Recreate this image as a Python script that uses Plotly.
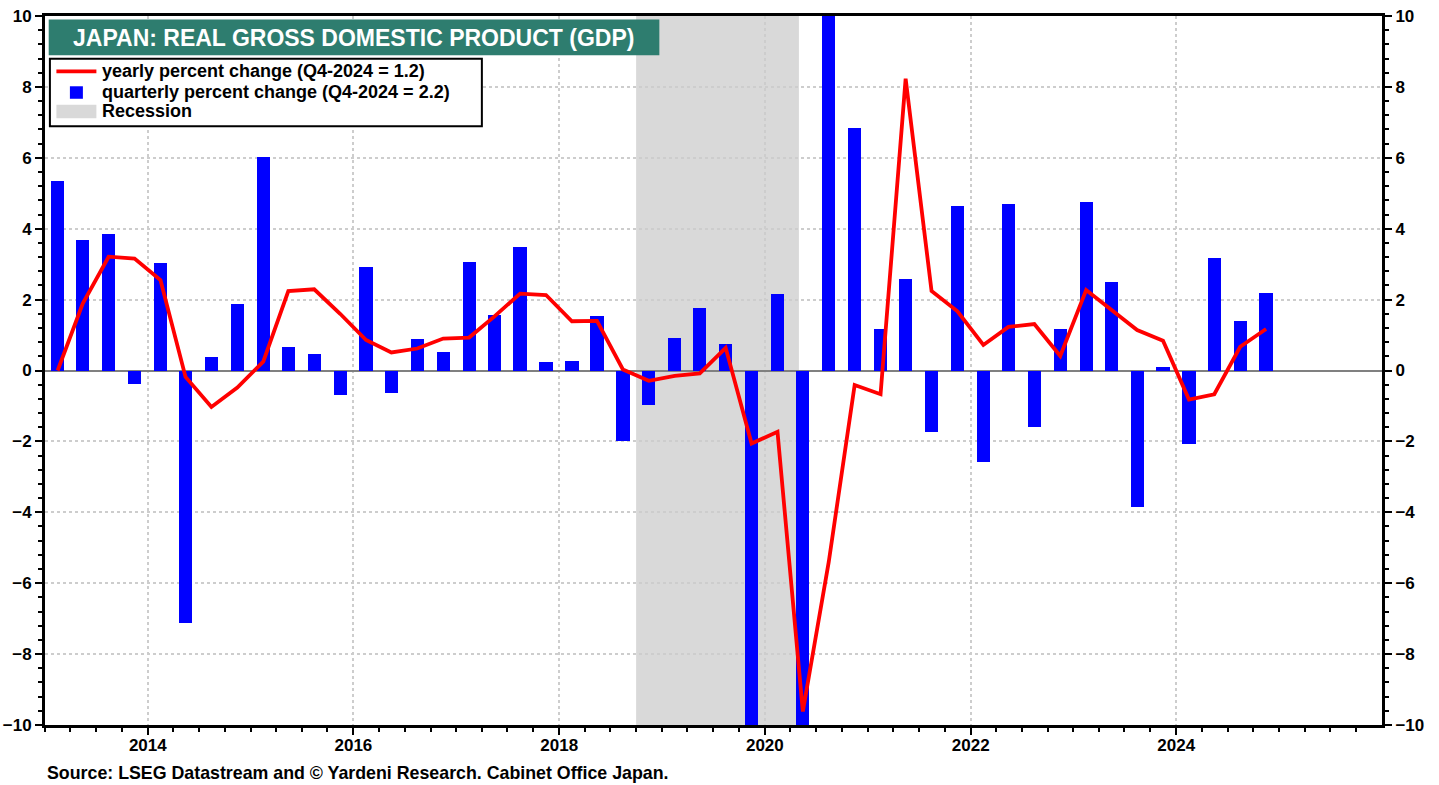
import plotly.graph_objects as go

# ---------------- data ----------------
quarters = [f"{y}Q{q}" for y in range(2013, 2025) for q in range(1, 5)]

quarterly_pct = [
    5.34, 3.67, 3.85, -0.38,   # 2013
    3.02, -7.12, 0.37, 1.89,   # 2014
    6.01, 0.65, 0.47, -0.69,   # 2015
    2.93, -0.64, 0.88, 0.53,   # 2016
    3.06, 1.57, 3.47, 0.25,    # 2017
    0.27, 1.54, -2.00, -0.96,  # 2018
    0.93, 1.76, 0.75, -10.6,   # 2019
    2.17, -28.0, 23.0, 6.85,   # 2020
    1.16, 2.58, -1.74, 4.64,   # 2021
    -2.59, 4.71, -1.59, 1.16,  # 2022
    4.74, 2.49, -3.85, 0.09,   # 2023
    -2.06, 3.18, 1.41, 2.20,   # 2024
]

yearly_pct = [
    0.00, 1.89, 3.21, 3.16,    # 2013
    2.55, -0.18, -1.03, -0.48, # 2014
    0.25, 2.24, 2.29, 1.60,    # 2015
    0.86, 0.51, 0.62, 0.90,    # 2016
    0.93, 1.52, 2.17, 2.13,    # 2017
    1.39, 1.40, 0.03, -0.29,   # 2018
    -0.15, -0.08, 0.64, -2.06, # 2019
    -1.73, -9.62, -5.40, -0.41,# 2020
    -0.67, 8.23, 2.24, 1.67,   # 2021
    0.72, 1.23, 1.31, 0.41,    # 2022
    2.27, 1.70, 1.14, 0.84,    # 2023
    -0.82, -0.67, 0.67, 1.17,  # 2024
]

recession_start = "2018-10-01"
recession_end = "2020-05-01"

title_text = "JAPAN: REAL GROSS DOMESTIC PRODUCT (GDP)"
legend_labels = [
    "yearly percent change (Q4-2024 = 1.2)",
    "quarterly percent change (Q4-2024 = 2.2)",
    "Recession",
]
source_text = "Source: LSEG Datastream and © Yardeni Research. Cabinet Office Japan."

# mid-quarter dates
def mid_quarter(qs):
    y, q = qs.split("Q")
    month = 3 * (int(q) - 1) + 2
    return f"{y}-{month:02d}-15"

xdates = [mid_quarter(q) for q in quarters]

# ---------------- layout geometry (page pixels; body margin removed) ----------------
W, H = 1439, 785
L, T, R, B = 44.6, 15.7, 1381.7, 725.0
PW, PH = R - L, B - T

def px(xp):
    return (xp - L) / PW

def py(yp):
    return 1 - (yp - T) / PH

FONT = "Arial, 'Liberation Sans', Helvetica, sans-serif"
BLUE = "#0000FF"
RED = "#FF0000"
GRAY = "#D9D9D9"
TEAL = "#2E7D6F"

fig = go.Figure()

fig.add_trace(go.Bar(
    x=xdates, y=quarterly_pct, name=legend_labels[1],
    marker=dict(color=BLUE, line=dict(width=0)),
    width=47 * 86400000, yaxis="y", showlegend=False,
))

fig.add_trace(go.Scatter(
    x=xdates, y=yearly_pct, name=legend_labels[0], mode="lines",
    line=dict(color=RED, width=3.8), yaxis="y2", showlegend=False,
))

shapes = []
# recession shading
shapes.append(dict(type="rect", xref="x", yref="paper", x0=recession_start, x1=recession_end,
                   y0=0, y1=1, fillcolor=GRAY, line=dict(width=0), layer="below"))
# title box
shapes.append(dict(type="rect", xref="paper", yref="paper", x0=px(48.3), x1=px(659), y0=py(55), y1=py(19.3),
                   fillcolor=TEAL, line=dict(width=0), layer="above"))
# legend box
shapes.append(dict(type="rect", xref="paper", yref="paper", x0=px(49.5), x1=px(481.5), y0=py(126), y1=py(58.5),
                   fillcolor="white", line=dict(color="black", width=2), layer="above"))
# legend symbols
shapes.append(dict(type="line", xref="paper", yref="paper", x0=px(56), x1=px(96), y0=py(71), y1=py(71),
                   line=dict(color=RED, width=3.8), layer="above"))
shapes.append(dict(type="rect", xref="paper", yref="paper", x0=px(69.5), x1=px(82.5), y0=py(98.5), y1=py(86),
                   fillcolor=BLUE, line=dict(width=0), layer="above"))
shapes.append(dict(type="rect", xref="paper", yref="paper", x0=px(56), x1=px(96), y0=py(118), y1=py(104.5),
                   fillcolor=GRAY, line=dict(width=0), layer="above"))

annotations = []
annotations.append(dict(text=title_text, xref="paper", yref="paper", x=px(353.5), y=py(37.5),
                        xanchor="center", yanchor="middle", showarrow=False,
                        font=dict(family=FONT, size=23, color="white", weight="bold")))
for i, (lab, yy) in enumerate(zip(legend_labels, [71, 91.5, 111])):
    annotations.append(dict(text=lab, xref="paper", yref="paper", x=px(100), y=py(yy),
                            xanchor="left", yanchor="middle", showarrow=False,
                            font=dict(family=FONT, size=18, color="black", weight="bold")))
annotations.append(dict(text=source_text, xref="paper", yref="paper", x=px(45), y=py(773),
                        xanchor="left", yanchor="middle", showarrow=False,
                        font=dict(family=FONT, size=17.8, color="black", weight="bold")))

tickfont = dict(family=FONT, size=17, color="black", weight="bold")
yaxis_common = dict(
    range=[-10, 10], dtick=2, tick0=0, ticks="outside", ticklen=7, tickwidth=2, tickcolor="black",
    showline=True, linewidth=3, linecolor="black", tickfont=tickfont, automargin=False,
    minor=dict(dtick=0.4, tick0=0, ticks="outside", ticklen=4, tickwidth=1.5, tickcolor="black", showgrid=False),
    fixedrange=True,
)

fig.update_layout(
    width=W, height=H,
    autosize=False,
    margin=dict(l=L, r=W - R, t=T, b=H - B, pad=0, autoexpand=False),
    plot_bgcolor="white", paper_bgcolor="white",
    bargap=0,
    showlegend=False,
    xaxis=dict(
        type="date", range=["2013-01-01", "2025-12-31 12:00"],
        dtick="M24", tick0="2014-01-01", tickformat="%Y",
        ticks="outside", ticklen=7, tickwidth=2, tickcolor="black",
        showline=True, linewidth=3, linecolor="black", mirror=True,
        showgrid=True, gridcolor="#CDCDCD", griddash="dot", gridwidth=1.5,
        tickfont=tickfont, automargin=False, fixedrange=True, ticklabelstandoff=-4,
        minor=dict(dtick="M3", tick0="2013-01-01", ticks="outside", ticklen=4, tickwidth=1.5,
                   tickcolor="black", showgrid=False),
    ),
    yaxis=dict(
        **yaxis_common, side="left",
        showgrid=True, gridcolor="#CDCDCD", griddash="dot", gridwidth=1.5,
        zeroline=True, zerolinecolor="#808080", zerolinewidth=1.5,
    ),
    yaxis2=dict(
        **yaxis_common, side="right", overlaying="y",
        showgrid=False, zeroline=False,
    ),
    shapes=shapes,
    annotations=annotations,
)

fig.write_html(
    "out.html",
    config={"displayModeBar": False, "staticPlot": False},
    post_script="document.body.style.margin='0';document.body.style.overflow='hidden';",
)
